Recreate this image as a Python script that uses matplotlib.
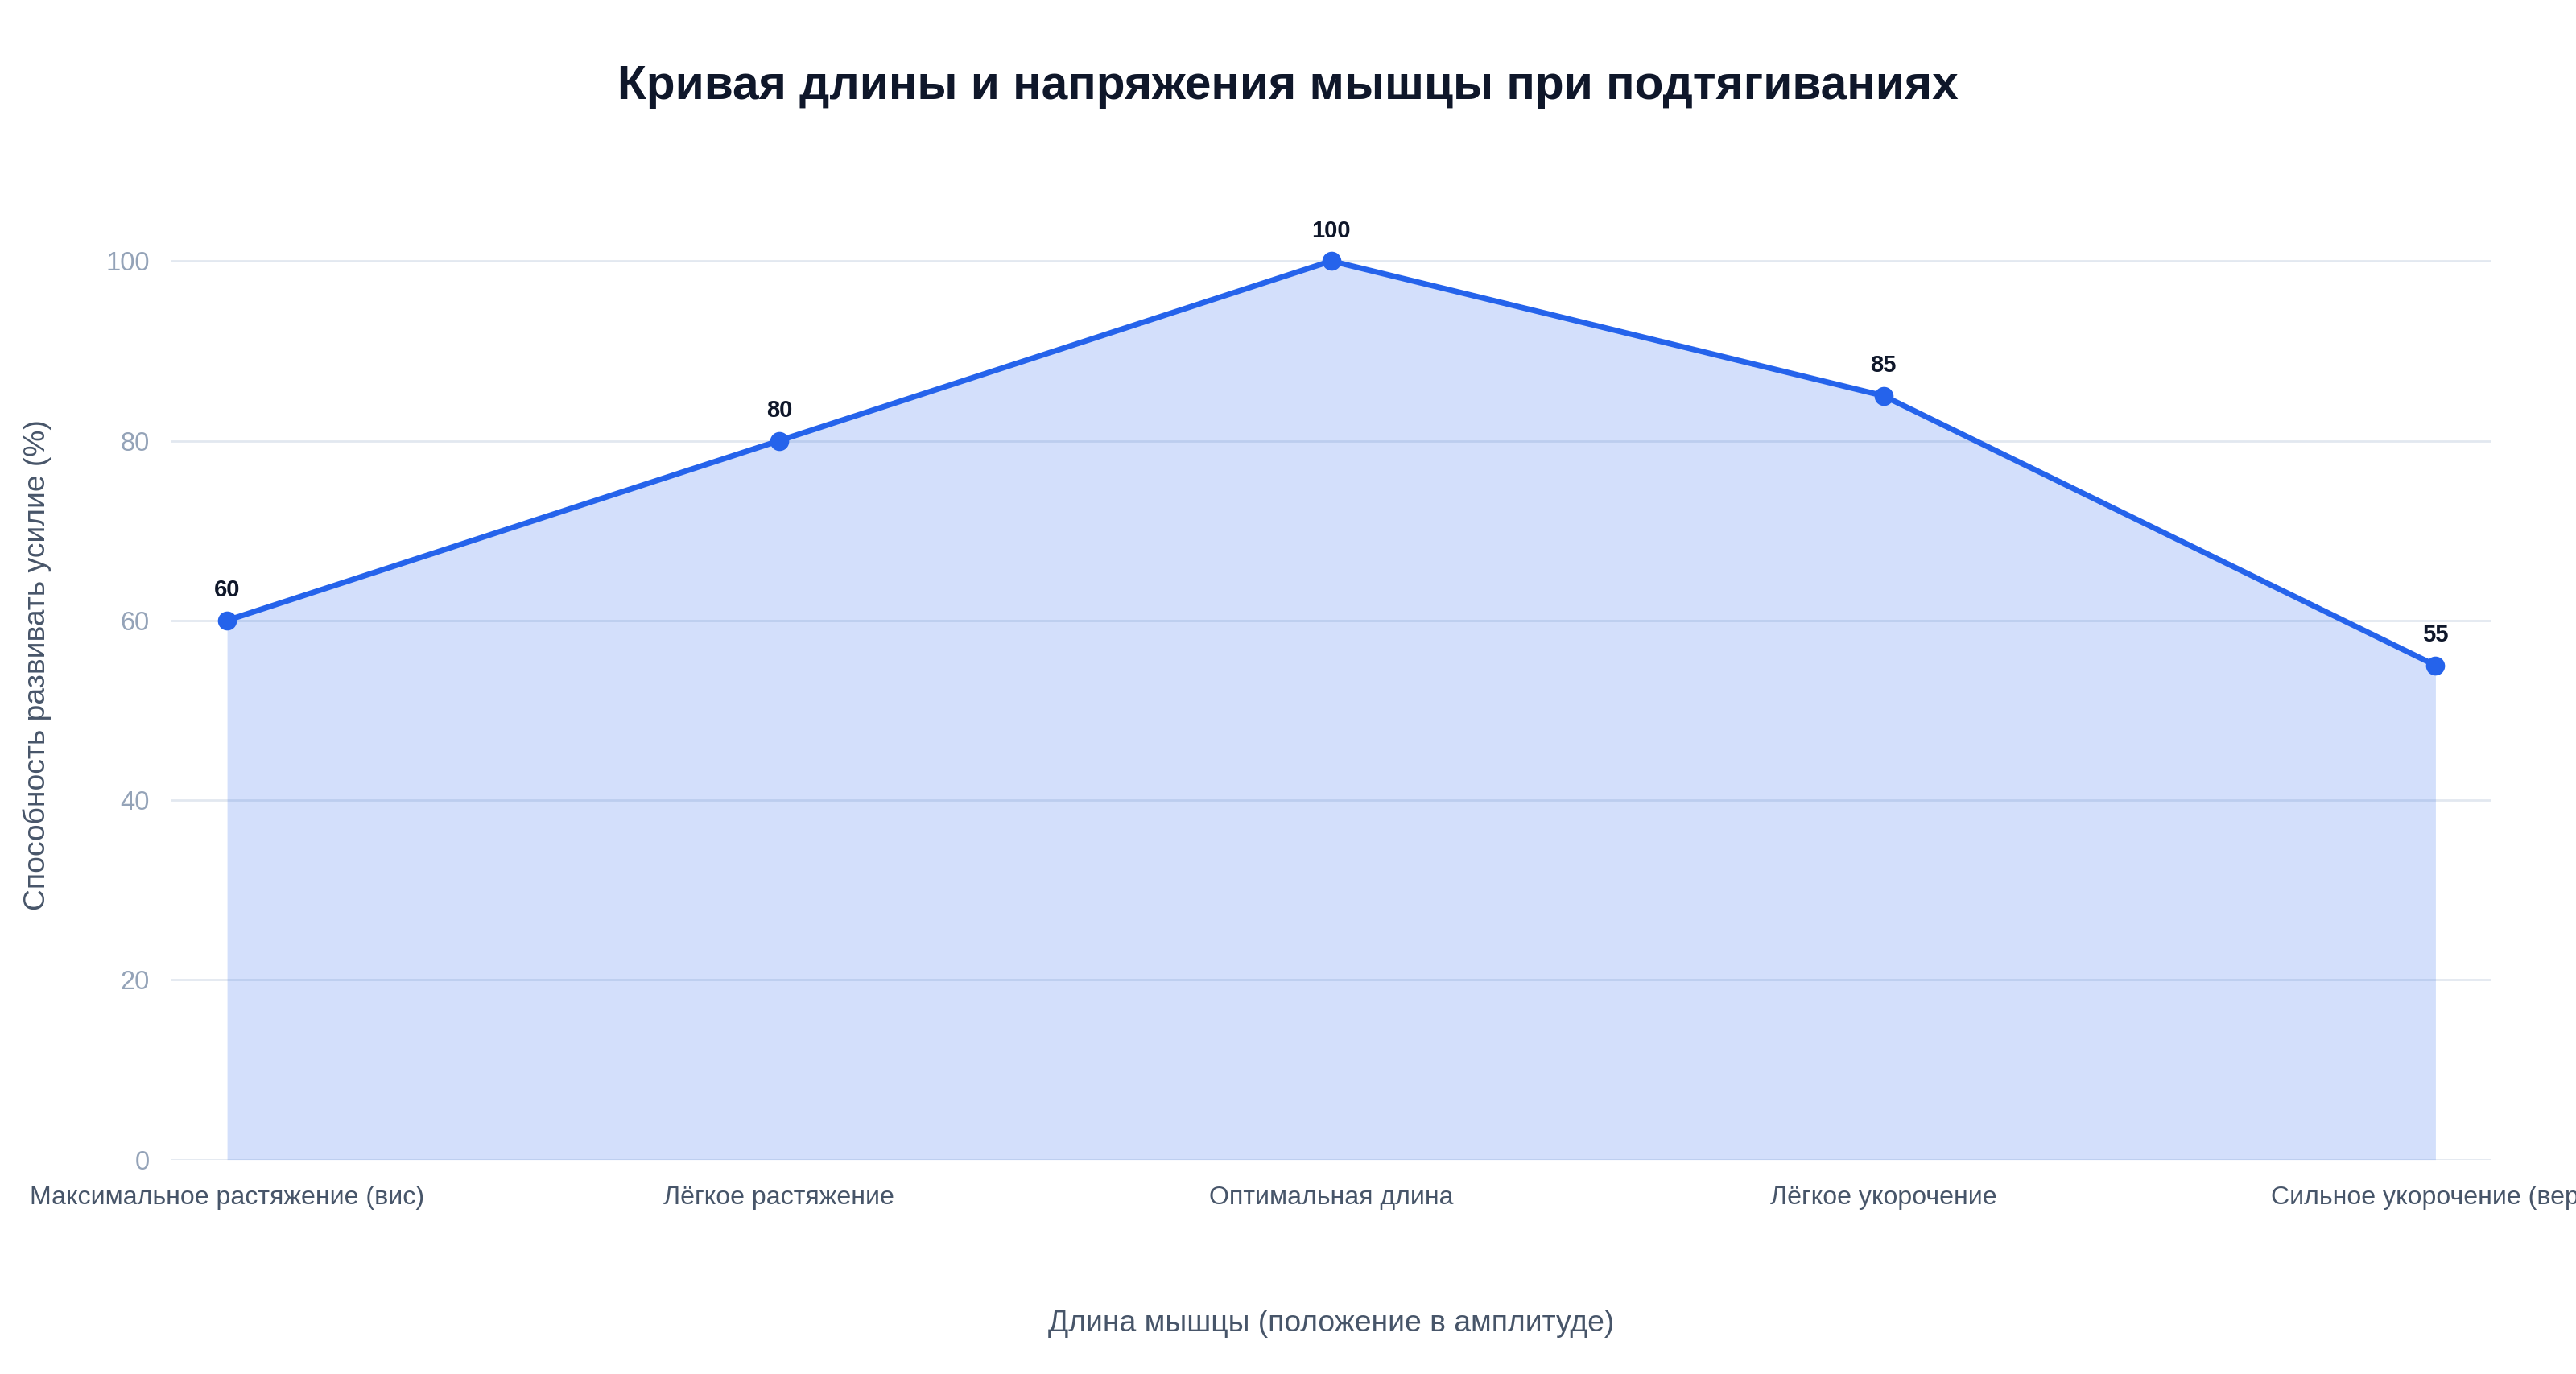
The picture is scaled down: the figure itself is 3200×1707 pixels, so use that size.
import numpy as np
import matplotlib
matplotlib.use("Agg")
import matplotlib.pyplot as plt

plt.rcParams['font.family'] = ['Liberation Sans', 'DejaVu Sans']

categories = [
    "Максимальное растяжение (вис)",
    "Лёгкое растяжение",
    "Оптимальная длина",
    "Лёгкое укорочение",
    "Сильное укорочение (верх)",
]
force = [60, 80, 100, 85, 55]
y_ticks = [0, 20, 40, 60, 80, 100]

title = "Кривая длины и напряжения мышцы при подтягиваниях"
x_title = "Длина мышцы (положение в амплитуде)"
y_title = "Способность развивать усилие (%)"

blue = "#2563eb"
grid_c = "#e2e8f0"

W, H = 3200, 1707
fig = plt.figure(figsize=(W / 200, H / 200), dpi=200)
ax = fig.add_axes([213.5 / W, 1 - 1440.6 / H, (3094 - 213.5) / W, (1440.6 - 212.6) / H])

x = np.arange(len(categories))
ax.fill_between(x, 0, force, color=blue, alpha=0.2, linewidth=0, zorder=2)
ax.plot(x, force, color=blue, lw=2.5, marker='o', ms=7.5, zorder=4)

for xi, v in zip(x, force):
    ax.annotate(str(v), (xi, v), xytext=(0, 13.5), textcoords='offset points',
                ha='center', va='center', fontsize=10.5, fontweight='bold',
                color='#0f172a', zorder=5)

ax.set_xlim(-0.1, 4.1)
ax.set_ylim(0, 110)
ax.set_yticks(y_ticks)
ax.set_xticks(x)
ax.set_xticklabels(categories)
ax.grid(axis='y', color=grid_c, lw=1.0, zorder=1)
ax.grid(axis='x', visible=False)
for s in ax.spines.values():
    s.set_visible(False)
ax.tick_params(axis='y', length=0, pad=10, labelsize=11.75, labelcolor='#94a3b8')
ax.tick_params(axis='x', length=0, pad=11.5, labelsize=11.55, labelcolor='#475569')

fig.text(0.5, 1 - 107.5 / H, title, ha='center', va='center',
         fontsize=21.1, fontweight='bold', color='#0f172a')
fig.text(1654 / W, 1 - 1645 / H, x_title, ha='center', va='center',
         fontsize=13.4, color='#475569')
fig.text(46 / W, 1 - 826 / H, y_title, ha='center', va='center', rotation=90,
         fontsize=13.4, color='#475569')

fig.savefig("out.png", dpi=200, facecolor='white')
